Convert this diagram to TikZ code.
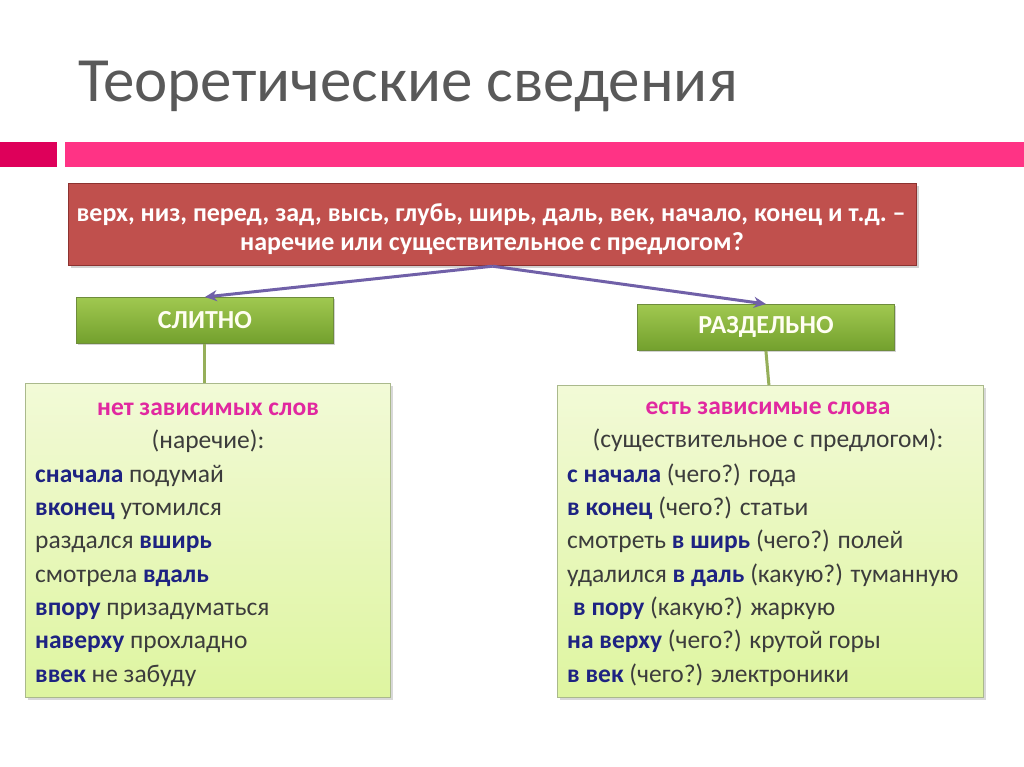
\documentclass[tikz,border=0pt]{standalone}
\usepackage{fontspec}
\setmainfont{Carlito}
\usetikzlibrary{arrows.meta,shadows}
\definecolor{titlegray}{RGB}{89,89,89}
\definecolor{pinkdark}{RGB}{222,0,90}
\definecolor{pinkbar}{RGB}{255,51,133}
\definecolor{redfill}{RGB}{192,80,77}
\definecolor{redborder}{RGB}{140,50,48}
\definecolor{greentop}{RGB}{160,200,80}
\definecolor{greenbot}{RGB}{115,160,45}
\definecolor{greenborder}{RGB}{110,140,60}
\definecolor{paneltop}{RGB}{242,250,215}
\definecolor{panelbot}{RGB}{222,245,160}
\definecolor{panelborder}{RGB}{170,185,140}
\definecolor{arrowc}{RGB}{112,96,168}
\definecolor{stem}{RGB}{150,175,90}
\definecolor{magtext}{RGB}{225,40,160}
\definecolor{bluetext}{RGB}{30,35,130}
\definecolor{bodytext}{RGB}{60,60,60}
\tikzset{
  redbox/.style={draw=redborder, line width=1.2pt, fill=redfill, minimum width=848pt, minimum height=82pt, inner sep=0pt, drop shadow={opacity=0.35, shadow xshift=2pt, shadow yshift=-2pt}},
  greenbox/.style={draw=greenborder, line width=0.8pt, top color=greentop, bottom color=greenbot, minimum width=257pt, minimum height=46pt, inner sep=0pt, text=white!95!yellow, font=\fontsize{26}{30}\selectfont\bfseries, drop shadow={opacity=0.35, shadow xshift=2pt, shadow yshift=-2pt}},
  panel/.style={draw=panelborder, line width=1pt, top color=paneltop, bottom color=panelbot, inner sep=0pt, drop shadow={opacity=0.3, shadow xshift=2pt, shadow yshift=-2pt}},
  conn/.style={draw=arrowc, line width=3pt, -{Stealth[length=12pt,width=11pt]}},
  stemline/.style={draw=stem, line width=3pt},
  txt/.style={font=\fontsize{25.5}{30}\selectfont, text=bodytext, inner sep=0pt},
  head/.style={font=\fontsize{25.5}{30}\selectfont\bfseries, text=magtext, inner sep=0pt},
  qtxt/.style={anchor=base, inner sep=0pt, text=white, font=\fontsize{26}{30}\selectfont\bfseries},
}
\newcommand{\bw}[1]{\textbf{\color{bluetext}#1}}
\begin{document}
\begin{tikzpicture}[x=1pt,y=-1pt]
\useasboundingbox[fill=white] (0,0) rectangle (1024,767);
% title
\node[anchor=base west, inner sep=0pt, text=titlegray, font=\fontsize{63}{70}\selectfont] (title) at (78,102) {Теоретические сведения};
% pink bars
\fill[pinkdark] (0,142) rectangle (57,167);
\fill[pinkbar] (65,142) rectangle (1024,167);
% question box
\node[redbox, anchor=north west] (q) at (68,183) {};
\node[qtxt] (q1) at (491,222) {верх, низ, перед, зад, высь, глубь, ширь, даль, век, начало, конец и т.д.~–};
\node[qtxt] (q2) at (492,251) {наречие или существительное с предлогом?};
% green boxes
\node[greenbox, anchor=north west] (sl) at (76,297) {СЛИТНО};
\node[greenbox, anchor=north west] (rz) at (637,304) {РАЗДЕЛЬНО};
% panels
\node[panel, anchor=north west, minimum width=365pt, minimum height=314pt] (lp) at (25,383) {};
\node[panel, anchor=north west, minimum width=426pt, minimum height=312pt] (rp) at (557,385) {};
% stems
\draw[stemline] (sl.south) -- (lp.north -| sl.south);
\draw[stemline] (rz.south) -- ([xshift=3pt]rp.north -| rz.south);
% arrows
\draw[conn] (q.south) -- (sl.north);
\draw[conn] (q.south) -- (rz.north);
% left panel text
\node[head, anchor=base] (lh) at (208,415) {нет зависимых слов};
\node[txt, anchor=base] (ls) at (208,448) {(наречие):};
\node[txt, anchor=base west] (l1) at (35,482) {\bw{сначала} подумай};
\node[txt, anchor=base west] (l2) at (35,515) {\bw{вконец} утомился};
\node[txt, anchor=base west] (l3) at (35,548) {раздался \bw{вширь}};
\node[txt, anchor=base west] (l4) at (35,582) {смотрела \bw{вдаль}};
\node[txt, anchor=base west] (l5) at (35,615) {\bw{впору} призадуматься};
\node[txt, anchor=base west] (l6) at (35,648) {\bw{наверху} прохладно};
\node[txt, anchor=base west] (l7) at (35,682) {\bw{ввек} не забуду};
% right panel text
\node[head, anchor=base] (rh) at (768,414) {есть зависимые слова};
\node[txt, anchor=base] (rs) at (768,447) {(существительное с предлогом):};
\node[txt, anchor=base west] (r1) at (567,482) {\bw{с начала} (чего?) года};
\node[txt, anchor=base west] (r2) at (567,515) {\bw{в конец} (чего?) статьи};
\node[txt, anchor=base west] (r3) at (567,548) {смотреть \bw{в ширь} (чего?) полей};
\node[txt, anchor=base west] (r4) at (567,582) {удалился \bw{в даль} (какую?) туманную};
\node[txt, anchor=base west] (r5) at (573,615) {\bw{в пору} (какую?) жаркую};
\node[txt, anchor=base west] (r6) at (567,648) {\bw{на верху} (чего?) крутой горы};
\node[txt, anchor=base west] (r7) at (567,682) {\bw{в век} (чего?) электроники};
\end{tikzpicture}
\end{document}
